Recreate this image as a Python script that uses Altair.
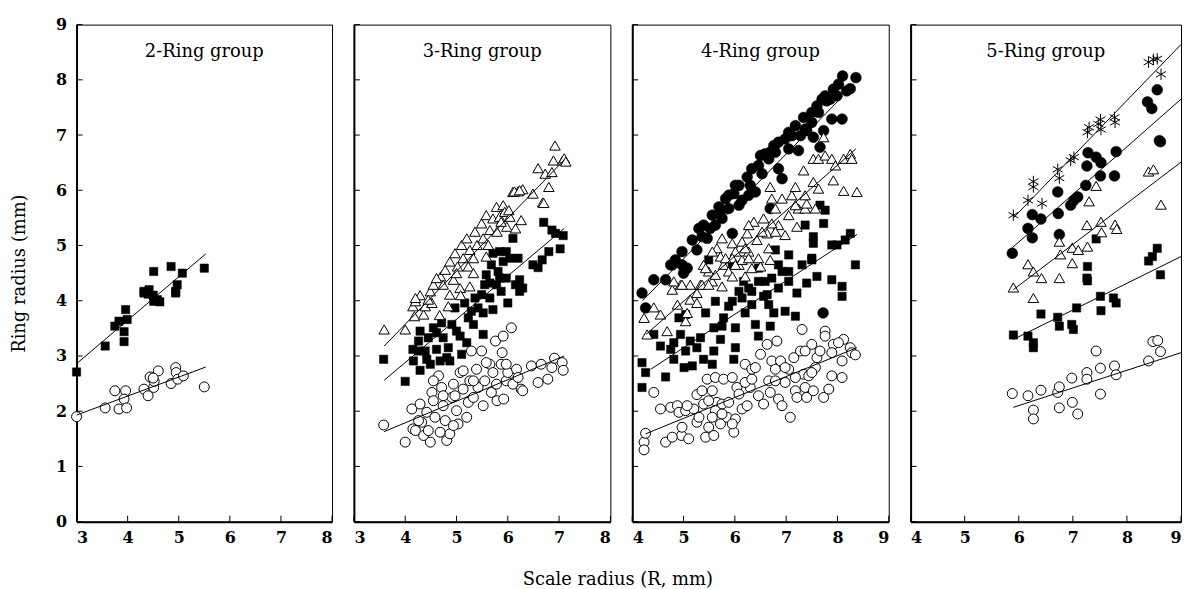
import altair as alt
import pandas as pd

FONT = "DejaVu Serif"
PLOT_H = 500
TICK_LEN = 6

# ---------------- 2-Ring group ----------------
g2_ring1 = [(3.00, 1.90), (3.56, 2.06), (3.75, 2.37), (3.83, 2.04), (3.96, 2.37), (3.93, 2.22),
            (3.98, 2.06), (4.32, 2.40), (4.40, 2.28), (4.44, 2.62), (4.51, 2.43), (4.52, 2.54),
            (4.60, 2.73), (4.50, 2.60), (4.85, 2.50), (4.94, 2.79), (4.95, 2.70), (4.98, 2.58),
            (5.09, 2.64), (5.50, 2.44)]
g2_ring2 = [(3.00, 2.71), (3.56, 3.18), (3.75, 3.54), (3.83, 3.63), (3.96, 3.84), (3.93, 3.44),
            (3.93, 3.26), (3.99, 3.66), (4.32, 4.14), (4.51, 3.99), (4.63, 3.98), (4.94, 4.14),
            (4.51, 4.53), (4.85, 4.62), (5.07, 4.50), (5.50, 4.59), (4.97, 4.29), (4.94, 4.17),
            (4.32, 4.17), (4.42, 4.20), (4.50, 4.10), (4.58, 4.02), (4.40, 4.12)]
g2_fit_ring1 = [(3.00, 1.93), (5.53, 2.80)]
g2_fit_ring2 = [(3.00, 2.86), (5.53, 4.85)]

# ---------------- 3-Ring group ----------------
g3_ring1 = [(3.58, 1.75), (4.00, 1.44), (4.13, 2.04), (4.15, 1.68), (4.20, 1.65), (4.29, 2.13),
            (4.32, 1.80), (4.36, 1.56), (4.42, 1.98), (4.49, 1.44), (4.52, 2.34), (4.55, 2.19),
            (4.58, 1.89), (4.65, 2.64), (4.71, 2.43), (4.74, 2.10), (4.78, 1.83), (4.81, 1.47),
            (4.87, 1.59), (4.91, 2.25), (4.94, 2.49), (5.00, 2.01), (5.03, 1.77), (5.07, 2.70),
            (5.13, 2.40), (5.20, 1.89), (5.23, 2.16), (5.26, 2.55), (5.29, 3.09), (5.33, 2.25),
            (5.39, 2.76), (5.42, 2.43), (5.49, 3.09), (5.52, 2.10), (5.55, 2.55), (5.65, 2.85),
            (5.68, 2.34), (5.71, 2.70), (5.76, 3.27), (5.79, 2.19), (5.87, 2.85), (5.89, 3.06),
            (5.91, 3.36), (5.92, 2.22), (5.97, 2.55), (6.00, 2.70), (6.07, 3.51), (6.10, 2.49),
            (6.17, 2.76), (6.20, 2.61), (6.26, 2.40), (6.29, 2.37), (6.46, 2.82), (6.59, 2.52),
            (6.65, 2.85), (6.78, 2.58), (6.86, 2.79), (6.91, 2.96), (7.06, 2.88), (7.08, 2.74),
            (4.55, 2.55), (4.74, 2.28), (4.97, 2.28), (5.13, 2.73), (5.33, 2.55), (5.58, 2.88),
            (5.78, 2.49), (5.97, 2.85), (4.26, 1.83), (4.45, 1.65), (4.68, 1.62), (4.94, 1.74)]
g3_ring2 = [(3.58, 2.94), (4.00, 2.54), (4.29, 2.74), (4.16, 2.91), (4.15, 3.12), (4.26, 3.27),
            (4.29, 3.45), (4.39, 3.09), (4.49, 2.85), (4.45, 3.33), (4.55, 3.51), (4.61, 3.12),
            (4.68, 2.91), (4.74, 3.33), (4.71, 3.60), (4.84, 3.15), (4.87, 2.91), (4.91, 3.57),
            (4.97, 3.87), (5.07, 3.36), (5.10, 3.03), (5.16, 3.96), (5.20, 3.24), (5.23, 3.69),
            (5.33, 3.57), (5.36, 4.05), (5.42, 3.87), (5.52, 3.39), (5.49, 4.11), (5.55, 4.29),
            (5.58, 4.47), (5.65, 4.05), (5.68, 4.65), (5.71, 4.86), (5.78, 4.29), (5.81, 4.53),
            (5.87, 4.17), (5.91, 4.71), (5.97, 4.41), (6.00, 3.96), (6.04, 4.77), (6.10, 5.13),
            (6.15, 4.29), (6.20, 4.77), (6.23, 4.17), (6.29, 4.23), (6.49, 4.65), (6.59, 4.60),
            (6.67, 4.74), (6.70, 5.42), (6.80, 4.89), (6.86, 5.28), (6.93, 5.22), (7.02, 4.94),
            (7.08, 5.18), (4.26, 3.09), (4.61, 3.42), (5.00, 3.45), (5.29, 3.81), (5.65, 4.32),
            (5.84, 4.41), (4.42, 2.94), (4.81, 2.97), (5.52, 3.78), (5.71, 3.84), (6.23, 4.38),
            (5.97, 4.89), (5.84, 4.89)]
g3_ring3 = [(3.59, 3.48), (4.00, 3.48), (4.18, 3.72), (4.15, 3.90), (4.20, 3.99), (4.29, 4.10),
            (4.36, 3.75), (4.39, 3.90), (4.52, 3.96), (4.49, 4.17), (4.55, 4.29), (4.67, 3.74),
            (4.69, 4.44), (4.74, 4.29), (4.78, 4.56), (4.84, 3.90), (4.87, 4.71), (4.94, 4.38),
            (4.97, 4.86), (5.02, 4.62), (5.07, 4.23), (5.10, 5.01), (5.13, 4.77), (5.20, 5.13),
            (5.23, 4.62), (5.26, 4.92), (5.33, 4.50), (5.36, 5.25), (5.40, 5.01), (5.49, 5.40),
            (5.52, 5.13), (5.58, 5.55), (5.58, 4.80), (5.65, 5.28), (5.71, 5.49), (5.78, 5.70),
            (5.79, 5.25), (5.84, 5.52), (5.91, 5.73), (5.94, 5.61), (5.98, 5.34), (6.04, 5.52),
            (6.10, 5.97), (6.15, 5.31), (6.20, 5.98), (6.26, 5.46), (6.29, 6.02), (6.49, 5.94),
            (6.59, 6.40), (6.68, 5.78), (6.73, 6.30), (6.80, 6.06), (6.86, 6.33), (6.89, 6.54),
            (7.07, 6.54), (7.10, 6.58), (4.20, 4.05), (4.45, 4.02), (4.61, 4.41), (5.00, 4.50),
            (5.33, 4.77), (5.62, 5.01), (5.87, 5.43), (6.02, 5.64), (5.08, 4.10), (5.26, 4.26),
            (4.87, 4.11), (6.92, 6.81), (6.13, 5.98), (6.23, 6.00), (6.70, 5.77), (7.13, 6.52)]
g3_fit_ring1 = [(3.59, 1.63), (7.10, 3.00)]
g3_fit_ring2 = [(3.59, 2.56), (7.10, 5.31)]
g3_fit_ring3 = [(3.59, 3.18), (7.10, 6.55)]

# ---------------- 4-Ring group ----------------
g4_ring1 = [(4.23, 1.44), (4.23, 1.30), (4.26, 1.60), (4.42, 2.34), (4.55, 2.04), (4.65, 1.44),
            (4.75, 2.07), (4.88, 2.10), (4.91, 1.98), (4.96, 1.56), (5.04, 2.01), (5.10, 1.50),
            (5.20, 2.04), (5.26, 2.30), (5.26, 1.80), (5.36, 2.37), (5.39, 2.13), (5.43, 1.53),
            (5.46, 2.58), (5.49, 1.71), (5.56, 2.37), (5.59, 1.56), (5.62, 2.61), (5.65, 2.16),
            (5.72, 1.77), (5.75, 2.13), (5.78, 2.58), (5.85, 1.89), (5.95, 2.61), (5.98, 1.62),
            (6.01, 1.86), (6.04, 2.43), (6.08, 2.31), (6.14, 2.04), (6.20, 2.85), (6.24, 2.10),
            (6.30, 2.43), (6.33, 2.76), (6.40, 2.79), (6.46, 2.28), (6.50, 3.03), (6.56, 2.13),
            (6.63, 3.21), (6.66, 2.55), (6.69, 2.34), (6.72, 2.91), (6.79, 2.76), (6.82, 3.27),
            (6.85, 2.22), (6.89, 2.91), (6.92, 2.10), (6.98, 2.52), (7.05, 2.76), (7.08, 1.89),
            (7.15, 2.97), (7.18, 2.37), (7.21, 2.25), (7.28, 3.09), (7.31, 3.48), (7.34, 2.67),
            (7.37, 2.43), (7.40, 2.25), (7.44, 2.64), (7.50, 3.21), (7.53, 2.37), (7.57, 2.79),
            (7.60, 2.97), (7.66, 3.09), (7.73, 2.25), (7.76, 3.45), (7.76, 3.36), (7.83, 2.40),
            (7.89, 2.64), (7.92, 3.21), (8.09, 2.61), (8.09, 2.91), (8.12, 3.30), (8.25, 3.15),
            (8.28, 3.06), (8.35, 3.02), (5.49, 2.19), (5.62, 2.01), (5.88, 2.16), (6.20, 2.52),
            (6.33, 2.58), (6.79, 2.55), (7.18, 2.61), (7.37, 3.09), (5.30, 1.89), (5.56, 1.89),
            (5.75, 1.95), (5.95, 1.77), (6.98, 2.79), (7.50, 2.70), (7.89, 3.06), (8.02, 3.24),
            (5.07, 2.10), (4.78, 1.53), (4.97, 1.71)]
g4_ring2 = [(6.79, 4.92), (7.05, 4.83), (7.37, 5.37), (7.73, 5.40), (7.53, 5.16), (7.53, 5.04),
            (7.66, 5.73), (7.76, 5.64), (7.89, 5.01), (7.99, 5.01), (8.15, 5.10), (8.25, 5.22),
            (7.50, 4.77), (7.05, 4.53), (6.72, 4.41), (6.63, 4.11), (6.46, 4.35), (6.33, 4.17),
            (6.08, 4.17), (5.95, 3.99), (4.19, 2.88), (4.26, 2.70), (4.19, 2.43), (4.42, 3.39),
            (4.55, 3.18), (4.65, 2.62), (4.75, 3.12), (4.81, 2.94), (4.91, 3.69), (4.94, 3.39),
            (5.01, 2.79), (5.04, 3.09), (5.13, 3.27), (5.17, 2.82), (5.26, 3.15), (5.33, 3.33),
            (5.39, 2.94), (5.43, 3.78), (5.56, 2.85), (5.59, 3.51), (5.62, 3.99), (5.72, 3.30),
            (5.78, 3.69), (5.88, 3.90), (5.98, 2.94), (6.01, 3.15), (6.01, 3.51), (6.14, 4.05),
            (6.20, 3.78), (6.27, 4.23), (6.33, 3.93), (6.40, 3.57), (6.46, 3.36), (6.56, 4.08),
            (6.59, 4.35), (6.69, 3.54), (6.76, 3.78), (6.85, 4.23), (6.85, 4.65), (6.98, 3.81),
            (7.05, 4.35), (7.18, 3.72), (7.21, 4.14), (7.31, 4.65), (7.40, 4.32), (7.50, 4.74),
            (7.60, 4.44), (7.89, 4.38), (8.09, 4.26), (8.09, 4.08), (8.35, 4.65), (5.95, 4.65),
            (5.49, 4.74), (5.04, 3.75), (4.81, 3.24), (5.59, 3.09), (5.75, 3.54), (6.17, 4.35),
            (6.46, 4.59), (6.92, 4.53), (6.66, 3.93)]
g4_ring3 = [(4.42, 3.88), (4.78, 4.20), (4.94, 4.29), (4.81, 4.35), (5.13, 4.29), (5.26, 4.14),
            (5.33, 4.29), (5.39, 4.65), (5.49, 4.53), (5.56, 4.35), (5.65, 4.95), (5.72, 4.80),
            (5.78, 4.65), (5.88, 4.53), (5.95, 5.04), (6.01, 4.89), (6.08, 4.65), (6.14, 4.74),
            (6.24, 5.22), (6.27, 4.89), (6.33, 4.59), (6.37, 5.43), (6.43, 5.10), (6.46, 4.77),
            (6.56, 5.49), (6.63, 5.22), (6.69, 6.06), (6.72, 5.85), (6.79, 5.67), (6.85, 5.37),
            (6.92, 5.85), (6.98, 5.19), (7.05, 5.55), (7.11, 5.91), (7.18, 6.06), (7.21, 5.34),
            (7.24, 5.67), (7.34, 6.36), (7.37, 5.67), (7.40, 5.76), (7.53, 6.15), (7.53, 6.57),
            (7.57, 5.67), (7.63, 6.57), (7.63, 6.03), (7.73, 6.96), (7.76, 6.63), (7.89, 6.57),
            (7.92, 6.18), (7.96, 6.45), (8.12, 6.57), (8.12, 5.99), (8.25, 6.66), (8.28, 6.57),
            (8.38, 5.97), (5.75, 5.13), (5.56, 4.89), (5.95, 4.77), (6.14, 5.07), (6.20, 4.95),
            (6.53, 5.25), (6.72, 5.40), (6.79, 5.25), (6.66, 4.95), (7.18, 5.73), (7.37, 5.91),
            (6.27, 5.37), (4.23, 3.69), (4.29, 3.39), (4.55, 3.75), (4.68, 3.45), (4.88, 3.93),
            (4.97, 4.29), (5.04, 3.63), (5.07, 3.78), (5.13, 4.02), (5.26, 3.96), (5.36, 4.29),
            (5.43, 4.59), (5.49, 4.29), (5.62, 4.47), (5.75, 4.26), (5.82, 4.77), (5.95, 4.44),
            (6.01, 4.65), (6.20, 4.44), (6.27, 4.77), (6.50, 4.62), (6.69, 4.74)]
g4_ring4 = [(4.19, 4.14), (4.26, 3.87), (4.42, 4.38), (4.65, 4.38), (4.75, 4.65), (4.84, 4.74),
            (4.97, 4.89), (5.07, 4.59), (4.97, 4.65), (5.17, 5.10), (5.26, 4.92), (5.36, 5.16),
            (5.39, 5.37), (5.46, 5.13), (5.56, 5.55), (5.62, 5.37), (5.69, 5.70), (5.75, 5.49),
            (5.82, 5.85), (5.88, 5.67), (5.95, 5.22), (5.98, 5.94), (6.01, 6.09), (6.08, 5.73),
            (6.14, 5.82), (6.24, 6.24), (6.30, 6.09), (6.33, 6.39), (6.40, 5.97), (6.46, 6.45),
            (6.53, 6.30), (6.59, 6.66), (6.66, 6.57), (6.69, 5.67), (6.76, 6.81), (6.79, 6.69),
            (6.85, 6.39), (6.92, 6.21), (6.98, 6.93), (7.05, 6.75), (7.11, 6.99), (7.18, 7.17),
            (7.24, 6.72), (7.28, 6.99), (7.34, 7.32), (7.40, 7.08), (7.50, 7.41), (7.53, 6.96),
            (7.60, 7.53), (7.66, 6.78), (7.70, 7.65), (7.73, 7.08), (7.79, 7.62), (7.89, 7.29),
            (7.92, 7.83), (8.02, 7.92), (8.09, 7.29), (8.10, 8.07), (8.18, 7.80), (8.25, 7.84),
            (8.36, 8.04), (5.30, 5.31), (5.52, 5.31), (5.72, 5.61), (5.88, 5.91), (6.08, 6.09),
            (6.27, 5.91), (6.50, 6.63), (6.69, 6.69), (6.85, 6.87), (7.05, 7.05), (7.37, 7.11),
            (7.50, 7.23), (7.63, 7.41), (7.76, 7.71), (7.86, 7.65), (7.99, 7.71), (5.00, 4.50),
            (4.78, 4.65), (7.72, 3.78)]
g4_fit_ring1 = [(4.26, 1.59), (8.38, 3.15)]
g4_fit_ring2 = [(4.36, 2.76), (8.38, 5.20)]
g4_fit_ring3 = [(4.27, 3.39), (8.36, 6.75)]
g4_fit_ring4 = [(4.20, 4.00), (8.10, 7.70)]

# ---------------- 5-Ring group ----------------
g5_ring1 = [(5.88, 2.32), (6.17, 2.28), (6.27, 2.02), (6.27, 1.86), (6.41, 2.38), (6.72, 2.34),
            (6.75, 2.44), (6.75, 2.06), (6.98, 2.60), (6.99, 2.16), (7.09, 1.95), (7.26, 2.70),
            (7.26, 2.58), (7.43, 3.09), (7.51, 2.78), (7.51, 2.31), (7.77, 2.82), (7.80, 2.66),
            (8.40, 2.91), (8.48, 3.26), (8.57, 3.28), (8.62, 3.08)]
g5_ring2 = [(5.90, 3.38), (6.17, 3.36), (6.27, 3.24), (6.27, 3.15), (6.41, 3.76), (6.72, 3.70),
            (6.75, 3.54), (6.98, 3.57), (7.01, 3.48), (7.07, 3.87), (7.27, 4.62), (7.26, 4.41),
            (7.27, 4.36), (7.43, 5.12), (7.51, 4.08), (7.52, 3.82), (7.75, 4.05), (7.80, 3.96),
            (8.40, 4.72), (8.47, 4.80), (8.56, 4.95), (8.62, 4.47)]
g5_ring3 = [(5.90, 4.24), (6.17, 4.66), (6.27, 4.53), (6.27, 4.05), (6.42, 4.41), (6.75, 4.41),
            (6.75, 5.07), (6.77, 4.84), (6.99, 4.68), (6.99, 4.96), (7.10, 4.92), (7.27, 4.98),
            (7.30, 5.80), (7.26, 5.37), (7.43, 6.08), (7.52, 5.43), (7.53, 5.24), (7.78, 5.38),
            (7.81, 5.30), (8.40, 6.34), (8.49, 6.38), (8.63, 5.74)]
g5_ring4 = [(5.88, 4.86), (6.17, 5.31), (6.25, 5.14), (6.25, 5.56), (6.41, 5.48), (6.72, 5.97),
            (6.73, 5.58), (6.75, 5.20), (6.96, 5.73), (7.09, 5.88), (7.24, 6.09), (7.26, 6.44),
            (7.28, 6.68), (7.43, 6.60), (7.51, 6.26), (7.52, 6.50), (7.77, 6.26), (7.80, 6.70),
            (8.38, 7.60), (8.46, 7.48), (8.56, 7.82), (8.62, 6.88), (8.60, 6.90), (7.02, 5.82)]
g5_ring5 = [(5.90, 5.55), (6.17, 5.82), (6.27, 6.16), (6.27, 6.06), (6.43, 5.76), (6.72, 6.38),
            (6.75, 6.22), (6.96, 6.54), (7.02, 6.60), (7.27, 7.05), (7.30, 7.14), (7.47, 7.20),
            (7.51, 7.28), (7.52, 7.10), (7.77, 7.32), (7.78, 7.23), (8.40, 8.32), (8.49, 8.37),
            (8.56, 8.38), (8.63, 8.10)]
g5_fit_ring1 = [(5.90, 2.07), (9.00, 3.06)]
g5_fit_ring2 = [(5.90, 3.30), (9.00, 4.80)]
g5_fit_ring3 = [(5.90, 4.20), (9.00, 6.51)]
g5_fit_ring4 = [(5.88, 4.96), (9.00, 7.65)]
g5_fit_ring5 = [(5.90, 5.50), (9.00, 8.64)]

Y_TICKS = list(range(0, 10))

# six-spoke asterisk drawn as an SVG path in the unit square
ASTERISK = "M0,-1L0,1M-0.87,-0.5L0.87,0.5M-0.87,0.5L0.87,-0.5"

# marker style per ring order
MARKS = {
    "ring1": dict(shape="circle", size=100, filled=True, fill="white", stroke="black", strokeWidth=1),
    "ring2": dict(shape="square", size=70, filled=True, fill="black", stroke="black", strokeWidth=0.5),
    "ring3": dict(shape="triangle-up", size=112, filled=True, fill="white", stroke="black", strokeWidth=1),
    "ring4": dict(shape="circle", size=118, filled=True, fill="black", stroke="black", strokeWidth=0.5),
    "ring5": dict(shape=ASTERISK, size=130, filled=False, stroke="black", strokeWidth=1),
}
# drawing order of the series inside a panel
ORDER = ["ring2", "ring4", "ring3", "ring1", "ring5"]


def to_frame(points):
    return pd.DataFrame(points, columns=["x", "y"])


def panel(title, series, fits, xdom, width, first):
    xs = alt.Scale(domain=xdom, nice=False, zero=False)
    ys = alt.Scale(domain=[0, 9], nice=False, zero=True)
    x_ticks = list(range(xdom[0], xdom[1] + 1))
    x_axis = alt.Axis(values=x_ticks, title=None, ticks=False, grid=False,
                      labelPadding=8, format="d")
    if first:
        y_axis = alt.Axis(values=Y_TICKS, title="Ring radius (mm)", ticks=False, grid=False,
                          labelPadding=10, titlePadding=27, format="d")
    else:
        y_axis = alt.Axis(values=Y_TICKS, title=None, ticks=False, grid=False, labels=False)

    def xe(field="x"):
        return alt.X(f"{field}:Q", scale=xs, axis=x_axis)

    def ye(field="y"):
        return alt.Y(f"{field}:Q", scale=ys, axis=y_axis)

    layers = []
    # inward tick marks
    layers.append(
        alt.Chart(pd.DataFrame({"v": Y_TICKS})).mark_rule(color="black", strokeWidth=1)
        .encode(y=ye("v"), x=alt.value(0), x2=alt.value(TICK_LEN))
    )
    layers.append(
        alt.Chart(pd.DataFrame({"v": x_ticks})).mark_rule(color="black", strokeWidth=1)
        .encode(x=xe("v"), y=alt.value(PLOT_H), y2=alt.value(PLOT_H - TICK_LEN))
    )
    for key in ORDER:
        if key not in series:
            continue
        layers.append(
            alt.Chart(to_frame(series[key])).mark_point(opacity=1, **MARKS[key])
            .encode(x=xe(), y=ye())
        )
    fit_rows = []
    for key, pts in fits.items():
        for px, py in pts:
            fit_rows.append({"x": px, "y": py, "s": key})
    layers.append(
        alt.Chart(pd.DataFrame(fit_rows)).mark_line(color="black", strokeWidth=1)
        .encode(x=xe(), y=ye(), detail="s:N")
    )
    layers.append(
        alt.Chart(pd.DataFrame({"t": [title]}))
        .mark_text(font=FONT, fontSize=18, color="black", baseline="alphabetic", align="center")
        .encode(text="t:N", x=alt.value(width / 2), y=alt.value(33))
    )
    return alt.layer(*layers).properties(width=width, height=PLOT_H)


p2 = panel("2-Ring group", {"ring1": g2_ring1, "ring2": g2_ring2},
           {"ring1": g2_fit_ring1, "ring2": g2_fit_ring2}, [3, 8], 257, True)
p3 = panel("3-Ring group", {"ring1": g3_ring1, "ring2": g3_ring2, "ring3": g3_ring3},
           {"ring1": g3_fit_ring1, "ring2": g3_fit_ring2, "ring3": g3_fit_ring3}, [3, 8], 258, False)
p4 = panel("4-Ring group",
           {"ring1": g4_ring1, "ring2": g4_ring2, "ring3": g4_ring3, "ring4": g4_ring4},
           {"ring1": g4_fit_ring1, "ring2": g4_fit_ring2, "ring3": g4_fit_ring3,
            "ring4": g4_fit_ring4}, [4, 9], 258, False)
p5 = panel("5-Ring group",
           {"ring1": g5_ring1, "ring2": g5_ring2, "ring3": g5_ring3, "ring4": g5_ring4,
            "ring5": g5_ring5},
           {"ring1": g5_fit_ring1, "ring2": g5_fit_ring2, "ring3": g5_fit_ring3,
            "ring4": g5_fit_ring4, "ring5": g5_fit_ring5}, [4, 9], 272, False)

chart = (
    alt.hconcat(p2, p3, p4, p5, spacing=22, bounds="flush")
    .properties(
        title=alt.TitleParams("Scale radius (R, mm)", orient="bottom", anchor="middle",
                              font=FONT, fontSize=18, fontWeight="normal", color="black",
                              offset=25, dx=21),
        padding={"left": 10, "top": 14, "right": 0, "bottom": 0},
        background="white",
    )
    .configure_view(stroke="black", strokeWidth=1)
    .configure_axis(
        domainColor="black", domainWidth=2, labelFont=FONT, labelFontSize=16,
        labelFontWeight="bold", labelColor="black", titleFont=FONT, titleFontSize=18,
        titleFontWeight="normal", titleColor="black",
    )
)

chart.save("out.html", embed_options={"renderer": "svg", "actions": False})
